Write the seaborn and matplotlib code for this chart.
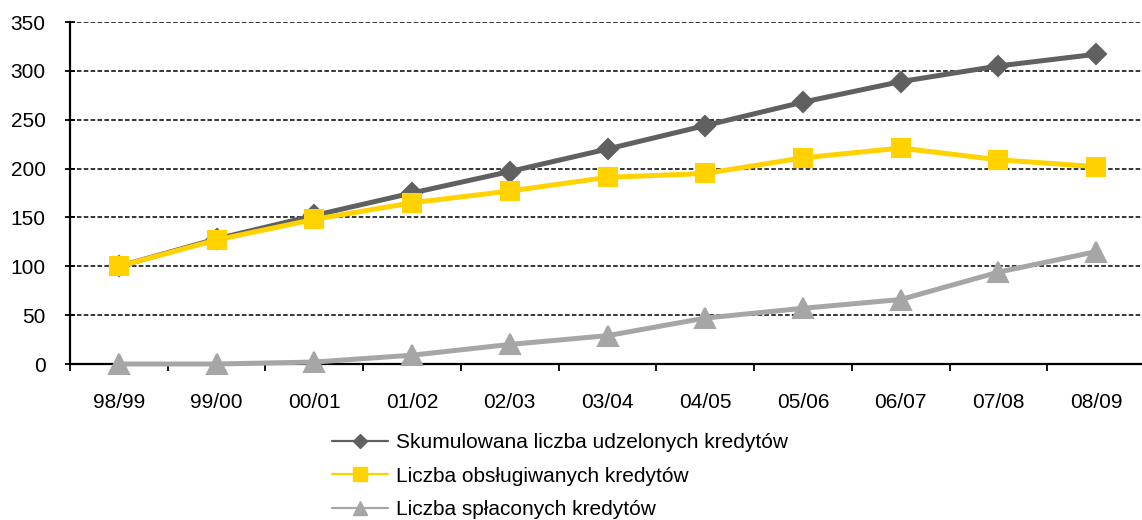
import numpy as np
import pandas as pd
import matplotlib
matplotlib.use("Agg")
import matplotlib.pyplot as plt
from matplotlib.lines import Line2D
from matplotlib.ticker import FixedLocator, MultipleLocator
import seaborn as sns

seasons = ["98/99", "99/00", "00/01", "01/02", "02/03", "03/04",
           "04/05", "05/06", "06/07", "07/08", "08/09"]
cumulative = [100, 128, 152, 175, 197, 220, 244, 268, 289, 305, 317]
serviced = [100, 127, 148, 165, 177, 191, 195, 211, 221, 209, 202]
repaid = [0, 0, 2, 9, 20, 29, 47, 57, 66, 94, 115]

names = ["Skumulowana liczba udzelonych kredytów",
         "Liczba obsługiwanych kredytów",
         "Liczba spłaconych kredytów"]
colors = ["#606060", "#FFD200", "#A6A6A6"]
markers = ["D", "s", "^"]
marker_sizes = [10.5, 13, 14]

df = pd.concat(
    [pd.DataFrame({"season": seasons, "value": vals, "series": name})
     for name, vals in zip(names, [cumulative, serviced, repaid])],
    ignore_index=True,
)

sns.set_theme(style="white")
plt.rcParams["font.family"] = ["Liberation Sans", "DejaVu Sans"]
plt.rcParams["text.color"] = "black"

fig = plt.figure(figsize=(11.42, 5.2), dpi=100)
ax = fig.add_axes([70 / 1142, 0.30, (1145 - 70) / 1142, (364 - 22) / 520])

sns.lineplot(
    data=df, x="season", y="value", hue="series", style="series",
    hue_order=names, style_order=names,
    palette=dict(zip(names, colors)),
    markers=dict(zip(names, markers)), dashes=False,
    linewidth=3.6, markersize=13, markeredgewidth=1.5,
    sort=False, legend=False, ax=ax,
)
for line, c, ms in zip(ax.lines, colors, marker_sizes):
    line.set_markeredgecolor(c)
    line.set_markersize(ms)
    line.set_solid_joinstyle("round")
    line.set_clip_on(False)
    line.set_zorder(3)

ax.set_xlim(-0.5, 10.5)
ax.set_ylim(0, 350)
ax.yaxis.set_major_locator(MultipleLocator(50))
ax.set_xlabel("")
ax.set_ylabel("")

# gridlines
ax.yaxis.grid(True, color="black", linestyle=(0, (3, 1.5)), linewidth=1.1)
ax.xaxis.grid(False)
ax.set_axisbelow(True)

for s in ["top", "right"]:
    ax.spines[s].set_visible(False)
for s in ["left", "bottom"]:
    ax.spines[s].set_color("black")
    ax.spines[s].set_linewidth(1.6)
    ax.spines[s].set_zorder(2.5)

# ticks: labels at centers, marks between categories
ax.xaxis.set_minor_locator(FixedLocator(np.arange(-0.5, 11, 1)))
ax.tick_params(axis="x", which="major", length=0, pad=21, labelsize=15,
               labelcolor="black")
ax.tick_params(axis="x", which="minor", bottom=True, direction="out", length=5,
               width=1.3, color="black")
ax.tick_params(axis="y", which="major", left=True, direction="inout", length=7,
               width=1.3, color="black", pad=14, labelsize=15, labelcolor="black")

handles = [
    Line2D([], [], color=c, marker=m, lw=1.6, markersize=ms, markeredgecolor=c)
    for c, m, ms in zip(colors, markers, [7, 9.5, 10])
]
leg = fig.legend(
    handles, names, loc="upper left", bbox_to_anchor=(332 / 1142, 1 - 433 / 520),
    frameon=False, fontsize=15, handlelength=2.7, handletextpad=0.35,
    labelspacing=0.7, borderaxespad=0, borderpad=0,
)
for t in leg.get_texts():
    t.set_color("black")

fig.savefig("out.png", dpi=100)
